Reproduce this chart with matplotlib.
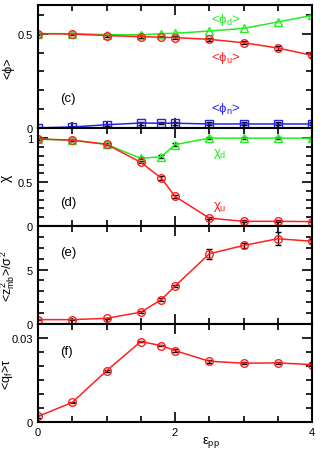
import numpy as np
import matplotlib
matplotlib.use("Agg")
import matplotlib.pyplot as plt

plt.rcParams['font.family'] = ['Liberation Sans', 'DejaVu Sans']
plt.rcParams['mathtext.fontset'] = 'custom'
plt.rcParams['mathtext.rm'] = 'Liberation Sans'
plt.rcParams['mathtext.it'] = 'Liberation Sans'
plt.rcParams['font.size'] = 8

eps = [0, 0.5, 1, 1.5, 1.8, 2, 2.5, 3, 3.5, 4]

# panel (c)
phi_u = [0.5, 0.498, 0.49, 0.484, 0.481, 0.479, 0.47, 0.452, 0.424, 0.385]
phi_d = [0.5, 0.5, 0.495, 0.494, 0.5, 0.502, 0.514, 0.528, 0.562, 0.597]
phi_n = [0.0, 0.005, 0.017, 0.026, 0.025, 0.025, 0.021, 0.021, 0.021, 0.021]
phi_err = [0.006, 0.006, 0.006, 0.008, 0.006, 0.008, 0.008, 0.008, 0.008, 0.008]

# panel (d)
chi_u = [0.99, 0.977, 0.93, 0.725, 0.545, 0.337, 0.09, 0.053, 0.053, 0.05]
chi_d = [0.99, 0.977, 0.93, 0.77, 0.79, 0.926, 1.0, 1.0, 1.0, 1.0]
chi_err = [0.01, 0.01, 0.01, 0.01, 0.02, 0.02, 0.01, 0.01, 0.01, 0.01]

# panel (e)
zmb = [0.4, 0.4, 0.52, 1.08, 2.24, 3.47, 6.45, 7.21, 7.83, 7.6]
zmb_err = [0.05, 0.05, 0.05, 0.1, 0.15, 0.1, 0.45, 0.2, 0.6, 0.2]

# panel (f)
qf = [0.0021, 0.0071, 0.0184, 0.0288, 0.0274, 0.0256, 0.0218, 0.0211, 0.0212, 0.0206]
qf_err = [0.0004, 0.0003, 0.0003, 0.0003, 0.0003, 0.0004, 0.0005, 0.0004, 0.0003, 0.0004]

RED = '#ff2020'
GREEN = '#22ee22'
BLUE = '#2222ee'

fig = plt.figure(figsize=(3.25, 4.52), dpi=100)
left, right = 0.117, 0.96
bounds = [0.9867, 0.7135, 0.4978, 0.281, 0.0635]
axes = []
for i in range(4):
    ax = fig.add_axes([left, bounds[i + 1], right - left, bounds[i] - bounds[i + 1]])
    axes.append(ax)

for ax in axes:
    ax.set_xlim(0, 4)
    ax.set_xticks([0, 2, 4])
    ax.set_xticks(np.arange(0, 4.01, 0.5), minor=True)
    ax.tick_params(which='both', direction='in', top=True, right=True, width=1.2)
    ax.tick_params(which='major', length=7)
    ax.tick_params(which='minor', length=4)
    for s in ax.spines.values():
        s.set_linewidth(1.5)
    if ax is not axes[-1]:
        ax.set_xticklabels([])

mk = dict(markersize=5.5, markerfacecolor='none', lw=1.1)
lab = dict(ha='left', va='center', fontsize=9.5)

# (c)
ax = axes[0]
ax.errorbar(eps, phi_u, yerr=phi_err, fmt='none', ecolor='k', lw=1, capsize=2, zorder=1)
ax.errorbar(eps, phi_n, yerr=phi_err, fmt='none', ecolor='k', lw=1, capsize=2, zorder=1)
ax.plot(eps, phi_d, '^-', color=GREEN, markeredgecolor=GREEN, **mk)
ax.plot(eps, phi_u, 'o-', color=RED, markeredgecolor=RED, **mk)
ax.plot(eps, phi_n, 's-', color=BLUE, markeredgecolor=BLUE, **mk)
ax.set_ylim(-0.003, 0.652)
ax.set_yticks([0, 0.5])
ax.set_yticklabels(['0', '0.5'])
ax.set_yticks(np.arange(0, 0.65, 0.1), minor=True)
ax.set_ylabel('<ϕ>', fontsize=9)
ax.text(0.63, 0.89, r'<$\phi_d$>', color=GREEN, transform=ax.transAxes, **lab)
ax.text(0.63, 0.58, r'<$\phi_u$>', color=RED, transform=ax.transAxes, **lab)
ax.text(0.63, 0.17, r'<$\phi_n$>', color=BLUE, transform=ax.transAxes, **lab)
ax.text(0.08, 0.245, '(c)', transform=ax.transAxes, ha='left', va='center', fontsize=9.5)

# (d)
ax = axes[1]
ax.errorbar(eps, chi_u, yerr=chi_err, fmt='none', ecolor='k', lw=1, capsize=2, zorder=1)
ax.errorbar(eps, chi_d, yerr=chi_err, fmt='none', ecolor='k', lw=1, capsize=2, zorder=1)
ax.plot(eps, chi_d, '^-', color=GREEN, markeredgecolor=GREEN, **mk)
ax.plot(eps, chi_u, 'o-', color=RED, markeredgecolor=RED, **mk)
ax.set_ylim(0, 1.11)
ax.set_yticks([0, 0.5, 1])
ax.set_yticklabels(['0', '0.5', '1'])
ax.set_yticks(np.arange(0, 1.1, 0.1), minor=True)
ax.set_ylabel(r'$\chi$', fontsize=10)
ax.text(0.64, 0.75, r'$\chi_d$', color=GREEN, transform=ax.transAxes, **lab)
ax.text(0.64, 0.20, r'$\chi_u$', color=RED, transform=ax.transAxes, **lab)
ax.text(0.08, 0.245, '(d)', transform=ax.transAxes, ha='left', va='center', fontsize=9.5)

# (e)
ax = axes[2]
ax.errorbar(eps, zmb, yerr=zmb_err, fmt='none', ecolor='k', lw=1, capsize=2, zorder=1)
ax.plot(eps, zmb, 'o-', color=RED, markeredgecolor=RED, **mk)
ax.set_ylim(0, 9)
ax.set_yticks([0, 5])
ax.set_yticks(np.arange(0, 9, 1), minor=True)
ax.set_ylabel(r'<$z_{mb}^{2}$>/$\sigma^2$', fontsize=9)
ax.text(0.08, 0.73, '(e)', transform=ax.transAxes, ha='left', va='center', fontsize=9.5)

# (f)
ax = axes[3]
ax.errorbar(eps, qf, yerr=qf_err, fmt='none', ecolor='k', lw=1, capsize=2, zorder=1)
ax.plot(eps, qf, 'o-', color=RED, markeredgecolor=RED, **mk)
ax.set_ylim(0, 0.0351)
ax.set_yticks([0, 0.03])
ax.set_yticklabels(['0', '0.03'])
ax.set_yticks(np.arange(0, 0.035, 0.005), minor=True)
ax.set_ylabel(r'<$q_f$>$\tau$', fontsize=9)
ax.text(0.08, 0.73, '(f)', transform=ax.transAxes, ha='left', va='center', fontsize=9.5)
ax.set_xticklabels(['0', '2', '4'])
ax.set_xlabel(r'$\epsilon_{pp}$', fontsize=9.5)
ax.xaxis.set_label_coords(0.63, -0.12)

for ax in axes:
    ax.yaxis.set_label_coords(-0.085, 0.5)
axes[2].yaxis.set_label_coords(-0.075, 0.5)

fig.savefig('out.png', dpi=100)
